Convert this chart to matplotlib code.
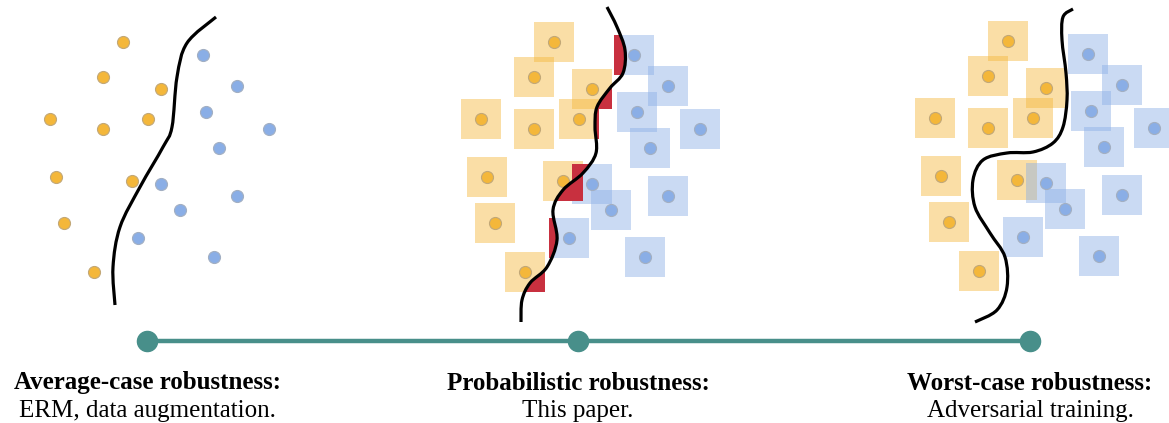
import matplotlib.pyplot as plt
from matplotlib.patches import Rectangle, PathPatch
from matplotlib.path import Path
import numpy as np

# points of the first panel (pixel coords), the other panels repeat them shifted
orange_x = [123, 103, 161, 50, 103, 148, 56, 132, 64, 94]
orange_y = [42, 77, 89, 119, 129, 119, 177, 181, 223, 272]
blue_x = [203, 237, 206, 269, 219, 161, 237, 180, 138, 214]
blue_y = [55, 86, 112, 129, 148, 184, 196, 210, 238, 257]
panel_dx = [0, 431, 885]
panel_dy = [0, 0, -1]

# decision boundaries
curve1 = [(216, 17), (187, 43), (177, 77), (172, 127), (163, 147), (140, 187),
          (120, 227), (113, 267), (115, 305)]
curve2 = [(607, 7), (617, 27), (625, 50), (623, 73), (610, 88), (597, 107),
          (595, 127), (596, 153), (583, 173), (563, 190), (553, 210), (557, 240),
          (547, 267), (530, 283), (522, 300), (521, 322)]
curve3 = [(1073, 9), (1063, 17), (1062, 40), (1066, 73), (1067, 100), (1063, 127),
          (1053, 143), (1033, 152), (1007, 153), (983, 160), (973, 180), (975, 207),
          (990, 233), (1005, 257), (1007, 287), (997, 310), (975, 322)]

timeline_x = [147, 578, 1030]
titles = ["Average-case robustness:", "Probabilistic robustness:", "Worst-case robustness:"]
subtitles = ["ERM, data augmentation.", "This paper.", "Adversarial training."]

ORANGE = '#F4B73A'
BLUE = '#8AAEE6'
RED = '#C8303F'
TEAL = '#488F8A'
SQ = 40


def smooth_path(pts):
    # catmull-rom through the points, as cubic bezier segments
    p = np.array(pts, dtype=float)
    p = np.vstack([p[0], p, p[-1]])
    verts = [p[1]]
    codes = [Path.MOVETO]
    for i in range(1, len(p) - 2):
        c1 = p[i] + (p[i + 1] - p[i - 1]) / 6
        c2 = p[i + 1] - (p[i + 2] - p[i]) / 6
        verts += [c1, c2, p[i + 1]]
        codes += [Path.CURVE4] * 3
    return np.array(verts), codes


def side_region(pts, far_x):
    v, c = smooth_path(pts)
    verts = [(v[0][0], -300)] + list(v) + [(v[-1][0], 800), (far_x, 800), (far_x, -300), (0, 0)]
    codes = [Path.MOVETO, Path.LINETO] + c[1:] + [Path.LINETO, Path.LINETO, Path.LINETO, Path.CLOSEPOLY]
    return Path(verts, codes)


plt.rcParams['font.family'] = ['Liberation Serif', 'DejaVu Serif']
fig = plt.figure(figsize=(11.69, 4.23), dpi=100)
ax = fig.add_axes([0, 0, 1, 1])
ax.set_xlim(0, 1169)
ax.set_ylim(423, 0)
ax.axis('off')

for k, curve in enumerate([curve1, curve2, curve3]):
    ox = np.array(orange_x) + panel_dx[k]
    oy = np.array(orange_y) + panel_dy[k]
    bx = np.array(blue_x) + panel_dx[k]
    by = np.array(blue_y) + panel_dy[k]

    if k > 0:
        for x, y in zip(ox, oy):
            ax.add_patch(Rectangle((x - SQ / 2, y - SQ / 2), SQ, SQ, facecolor=ORANGE,
                                   alpha=0.45, edgecolor='none', zorder=1))
        for x, y in zip(bx, by):
            ax.add_patch(Rectangle((x - SQ / 2, y - SQ / 2), SQ, SQ, facecolor=BLUE,
                                   alpha=0.45, edgecolor='none', zorder=1))

    if k == 1:
        left = side_region(curve, -2000)
        right = side_region(curve, 3000)
        for x, y in zip(bx, by):
            r = Rectangle((x - SQ / 2, y - SQ / 2), SQ, SQ, facecolor=RED,
                          edgecolor='none', zorder=2)
            ax.add_patch(r)
            r.set_clip_path(left, ax.transData)
        for x, y in zip(ox, oy):
            r = Rectangle((x - SQ / 2, y - SQ / 2), SQ, SQ, facecolor=RED,
                          edgecolor='none', zorder=2)
            ax.add_patch(r)
            r.set_clip_path(right, ax.transData)

    ax.scatter(ox, oy, s=75, color=ORANGE, edgecolors='#C2A878', linewidths=0.8, zorder=3)
    ax.scatter(bx, by, s=75, color=BLUE, edgecolors='#A3AFC2', linewidths=0.8, zorder=3)

    v, c = smooth_path(curve)
    ax.add_patch(PathPatch(Path(v, c), facecolor='none', edgecolor='black',
                           linewidth=2.3, capstyle='butt', zorder=4))

ax.plot([timeline_x[0], timeline_x[-1]], [341, 341], color=TEAL, linewidth=3.2,
        solid_capstyle='butt', zorder=5)
ax.scatter(timeline_x, [341] * 3, s=210, color=TEAL, zorder=6)

for x, t, s in zip(timeline_x, titles, subtitles):
    ax.text(x, 383, t, ha='center', va='center', fontsize=18, fontweight='bold')
    ax.text(x, 411, s, ha='center', va='center', fontsize=18)

plt.savefig('out.png', dpi=100, facecolor='white')
